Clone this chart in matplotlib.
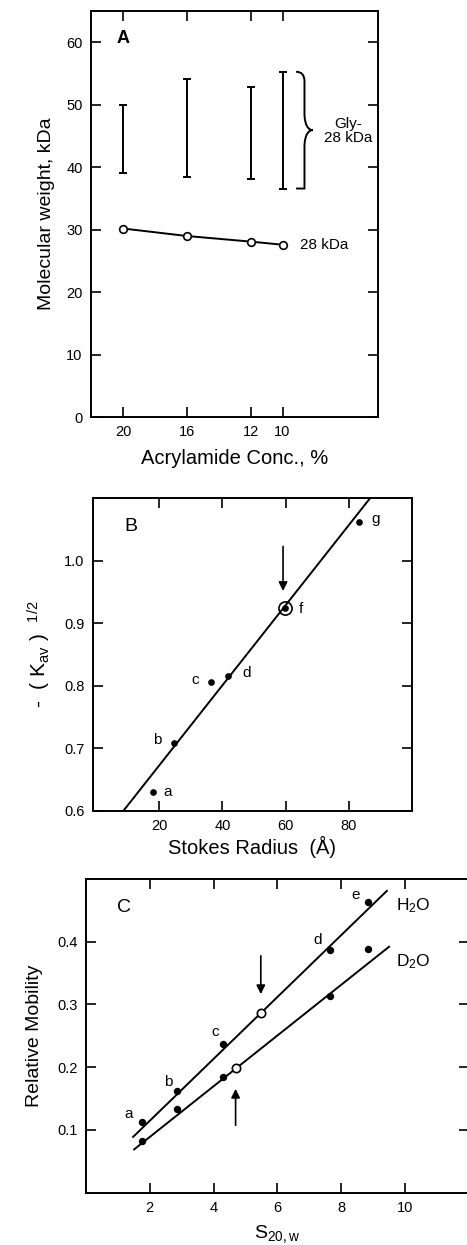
import matplotlib.pyplot as plt
import numpy as np
from matplotlib.path import Path
from matplotlib.patches import PathPatch

plt.rcParams['font.family'] = ['Liberation Sans', 'DejaVu Sans']
plt.rcParams['mathtext.fontset'] = 'custom'
plt.rcParams['mathtext.rm'] = 'Liberation Sans'
plt.rcParams['mathtext.it'] = 'Liberation Sans'

# panel A: apparent molecular weight vs acrylamide
conc = [20, 16, 12, 10]
mw_28 = [30.2, 29.0, 28.1, 27.6]
gly_low = [39.1, 38.5, 38.1, 36.6]
gly_high = [50.0, 54.1, 52.8, 55.3]

# panel B: gel filtration
stokes = [18.0, 24.6, 36.5, 41.8, 83.4]
kav = [0.630, 0.708, 0.806, 0.816, 1.061]
std_labels = ['a', 'b', 'c', 'd', 'g']
f_radius, f_kav = 59.8, 0.925
fitB_x = [8.6, 86.8]
fitB_y = [0.6, 1.1]

# panel C: sucrose gradient
s20w = [1.76, 2.84, 4.29, 7.65, 8.84]
mob_h2o = [0.112, 0.162, 0.237, 0.387, 0.464]
mob_d2o = [0.083, 0.133, 0.184, 0.313, 0.389]
sed_labels = ['a', 'b', 'c', 'd', 'e']
open_h2o = (5.48, 0.287)
open_d2o = (4.69, 0.199)
fitH_x = [1.48, 9.43]
fitH_y = [0.089, 0.481]
fitD_x = [1.51, 9.5]
fitD_y = [0.069, 0.392]

fig = plt.figure(figsize=(4.67, 12.45), dpi=100)
lw = 1.4


def style(ax):
    ax.tick_params(direction='in', length=7, width=1.2, top=True, right=True,
                   labelsize=10.5, pad=6)
    for s in ax.spines.values():
        s.set_linewidth(1.4)


# ---- A ----
axA = fig.add_axes([0.195, 0.665, 0.615, 0.326])
axA.plot(conc, mw_28, '-o', color='black', lw=lw, ms=5.5, mfc='white', mew=1.2)
mid = [(l + h) / 2 for l, h in zip(gly_low, gly_high)]
err = [[m - l for m, l in zip(mid, gly_low)], [h - m for h, m in zip(gly_high, mid)]]
axA.errorbar(conc, mid, yerr=err, fmt='none', ecolor='black', elinewidth=lw,
             capsize=3, capthick=lw)
# curly brace
x0, x1 = 9.15, 8.1
yt, yb = gly_high[-1], gly_low[-1]
ym = (yt + yb) / 2
xm = (x0 + x1) / 2
verts = [(x0, yt), (xm, yt), (xm, yt - 1.5), (xm, yt - 1.5),
         (xm, ym + 2.5), (xm, ym + 2.5), (xm, ym), (x1, ym),
         (xm, ym), (xm, ym - 2.5), (xm, ym - 2.5),
         (xm, yb + 1.5), (xm, yb + 1.5), (xm, yb), (x0, yb)]
codes = [Path.MOVETO, Path.CURVE3, Path.CURVE3, Path.LINETO,
         Path.LINETO, Path.CURVE4, Path.CURVE4, Path.CURVE4,
         Path.CURVE4, Path.CURVE4, Path.CURVE4,
         Path.LINETO, Path.CURVE3, Path.CURVE3, Path.LINETO]
axA.add_patch(PathPatch(Path(verts, codes), fill=False, lw=lw, color='black'))
axA.text(5.9, 45.8, 'Gly-\n28 kDa', ha='center', va='center', fontsize=11,
         linespacing=1.0)
axA.text(8.9, 27.6, '28 kDa', ha='left', va='center', fontsize=11)
axA.text(20, 60.7, 'A', ha='center', va='center', fontsize=13, fontweight='bold')
axA.set_xlim(22, 4)
axA.set_ylim(0, 65)
axA.set_xticks(conc)
axA.set_yticks(range(0, 70, 10))
axA.set_xlabel('Acrylamide Conc., %', fontsize=14.5, labelpad=7)
axA.set_ylabel('Molecular weight, kDa', fontsize=14, labelpad=8)
style(axA)

# ---- B ----
axB = fig.add_axes([0.199, 0.3486, 0.683, 0.2514])
axB.plot(fitB_x, fitB_y, color='black', lw=lw, clip_on=True)
axB.plot(stokes, kav, 'o', color='black', ms=3.8)
axB.plot(f_radius, f_kav, 'o', color='black', ms=3.8)
axB.plot(f_radius, f_kav, 'o', mfc='none', mec='black', ms=9.5, mew=1.2)
offsB = {'a': (4.5, 0.0), 'b': (-5.2, 0.006), 'c': (-5, 0.004),
         'd': (6, 0.004), 'g': (5, 0.006)}
for x, y, lab in zip(stokes, kav, std_labels):
    dx, dy = offsB[lab]
    axB.text(x + dx, y + dy, lab, ha='center', va='center', fontsize=11)
axB.text(f_radius + 5, f_kav - 0.002, 'f', ha='center', va='center', fontsize=11)
axB.annotate('', xy=(59.2, 0.947), xytext=(59.2, 1.027),
             arrowprops=dict(arrowstyle='-|>', color='black', lw=1.2,
                             mutation_scale=13))
axB.text(11, 1.055, 'B', ha='center', va='center', fontsize=14)
axB.set_xlim(-1, 100)
axB.set_ylim(0.6, 1.1)
axB.set_xticks([20, 40, 60, 80])
axB.set_yticks([0.6, 0.7, 0.8, 0.9, 1.0])
axB.set_yticklabels(['0.6', '0.7', '0.8', '0.9', '1.0'])
axB.set_xlabel('Stokes Radius  (Å)', fontsize=14.5, labelpad=2)
axB.set_ylabel(r'-  ( K$_{\mathrm{av}}$ )  $^{\mathrm{1/2}}$', fontsize=15, labelpad=8)
style(axB)

# ---- C ----
axC = fig.add_axes([0.184, 0.042, 0.82, 0.252])
axC.plot(fitH_x, fitH_y, color='black', lw=lw)
axC.plot(fitD_x, fitD_y, color='black', lw=lw)
axC.plot(s20w, mob_h2o, 'o', color='black', ms=4.3)
axC.plot(s20w, mob_d2o, 'o', color='black', ms=4.3)
axC.plot(*open_h2o, 'o', mfc='white', mec='black', ms=6, mew=1.2)
axC.plot(*open_d2o, 'o', mfc='white', mec='black', ms=6, mew=1.2)
offsC = {'a': (-0.42, 0.013), 'b': (-0.27, 0.015), 'c': (-0.25, 0.019),
         'd': (-0.38, 0.016), 'e': (-0.4, 0.01)}
for x, y, lab in zip(s20w, mob_h2o, sed_labels):
    dx, dy = offsC[lab]
    axC.text(x + dx, y + dy, lab, ha='center', va='center', fontsize=11)
axC.annotate('', xy=(open_h2o[0], 0.312), xytext=(open_h2o[0], 0.382),
             arrowprops=dict(arrowstyle='-|>', color='black', lw=1.2,
                             mutation_scale=13))
axC.annotate('', xy=(open_d2o[0], 0.17), xytext=(open_d2o[0], 0.103),
             arrowprops=dict(arrowstyle='-|>', color='black', lw=1.2,
                             mutation_scale=13))
axC.text(9.72, 0.457, r'H$_2$O', ha='left', va='center', fontsize=12.5)
axC.text(9.72, 0.368, r'D$_2$O', ha='left', va='center', fontsize=12.5)
axC.text(1.2, 0.454, 'C', ha='center', va='center', fontsize=14)
axC.set_xlim(0, 12)
axC.set_ylim(0, 0.5)
axC.set_xticks([2, 4, 6, 8, 10])
axC.set_yticks([0.1, 0.2, 0.3, 0.4])
axC.set_xlabel(r'S$_{\mathrm{20,w}}$', fontsize=14, labelpad=6)
axC.set_ylabel('Relative Mobility', fontsize=14, labelpad=10)
style(axC)

fig.savefig('out.png', dpi=100)
